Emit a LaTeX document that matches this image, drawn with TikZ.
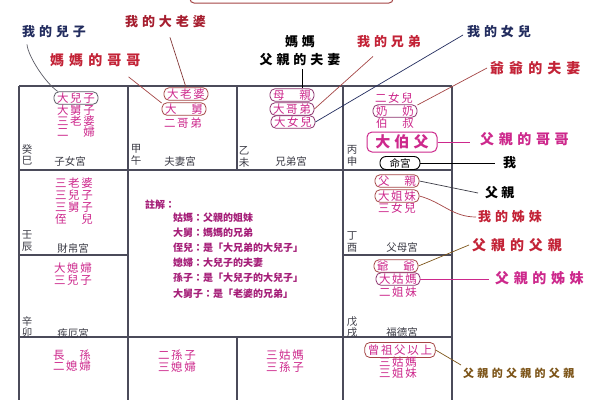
\documentclass[tikz,border=0pt]{standalone}
\usepackage{fontspec}
\setmainfont{Noto Sans CJK TC}
\definecolor{mag}{RGB}{205,40,140}
\definecolor{redl}{RGB}{195,35,55}
\definecolor{navy}{RGB}{35,45,95}
\definecolor{brownl}{RGB}{125,85,25}
\definecolor{notec}{RGB}{165,30,120}
\definecolor{stemc}{RGB}{60,60,70}
\definecolor{ovred}{RGB}{165,70,70}
\definecolor{ovmag}{RGB}{140,50,110}
\definecolor{ovgray}{RGB}{90,90,100}
\definecolor{gridc}{RGB}{75,75,90}
\begin{document}
\begin{tikzpicture}[x=1pt,y=-1pt,
  ct/.style={text=mag, font=\fontsize{11.5}{11.5}\selectfont\addfontfeature{LetterSpace=15}, inner sep=0pt},
  ov/.style={ct, draw=ovred, rounded corners=5pt, line width=0.8pt, minimum width=44pt, minimum height=12.5pt, inner xsep=3pt},
  stemtxt/.style={font=\fontsize{10.5}{11.5}\selectfont, text=stemc, inner sep=0pt, align=center},
  pal/.style={font=\fontsize{10.5}{10.5}\selectfont, text=stemc, inner sep=0pt},
  lab/.style={font=\fontsize{13}{13}\selectfont\bfseries\addfontfeature{LetterSpace=30}, inner sep=0pt, anchor=west},
  biglab/.style={font=\fontsize{14}{14}\selectfont\bfseries\addfontfeature{LetterSpace=36}, inner sep=0pt, anchor=west},
  gridl/.style={draw=gridc, line width=1.1pt},
  notetxt/.style={font=\fontsize{10}{10}\selectfont\bfseries, text=notec, inner sep=0pt, anchor=west},
  conn/.style={line width=0.7pt}
]
\useasboundingbox (0,0) rectangle (600,400);
\fill[white] (0,0) rectangle (600,400);
\clip (0,0) rectangle (600,400);

% title box (cut off)
\draw[draw=ovred, line width=1pt, rounded corners=4pt] (190,-10) rectangle (393,3);

% grid
\draw[gridl] (19,86) -- (452,86);
\draw[gridl] (19,170) -- (452,170);
\draw[gridl] (19,255) -- (128,255);
\draw[gridl] (343,255) -- (452,255);
\draw[gridl] (19,337) -- (452,337);
\draw[gridl] (19,86) -- (19,400);
\draw[gridl] (128,86) -- (128,400);
\draw[gridl] (343,86) -- (343,400);
\draw[gridl] (452,86) -- (452,400);
\draw[gridl] (237,86) -- (237,170);
\draw[gridl] (237,337) -- (237,400);

% cell si
\node[ov, draw=ovgray] (sonA) at (76,98) {大兒子};
\node[ct] (c1b) at (76,110) {大舅子};
\node[ct] (c1c) at (76,121) {三老婆};
\node[ct] (c1d) at (76,132) {二　婦};
\node[stemtxt] (s1) at (27,155) {癸\\巳};
\node[pal] (p1) at (70,161) {子女宮};

% cell wu
\node[ov] (wifeA) at (186,94) {大老婆};
\node[ov] (uncA) at (184,109) {大　舅};
\node[ct] (c2c) at (183,123) {二哥弟};
\node[stemtxt] (s2) at (136,155) {甲\\午};
\node[pal] (p2) at (180,161) {夫妻宮};

% cell wei
\node[ov, draw=ovmag] (momN) at (292,95) {母　親};
\node[ov, draw=ovmag] (broN) at (292,109) {大哥弟};
\node[ov, draw=ovmag] (dauN) at (293,122) {大女兒};
\node[stemtxt] (s3) at (244,157) {乙\\未};
\node[pal] (p3) at (291,161) {兄弟宮};

% cell shen
\node[ct] (c4a) at (394,98) {二女兒};
\node[ov, draw=ovmag] (grmaN) at (395,111) {奶　奶};
\node[ct] (c4c) at (395,123) {伯　叔};
\node[draw=mag, text=mag, rounded corners=5pt, line width=1pt, minimum width=70pt, minimum height=20pt, inner sep=0pt,
      font=\fontsize{15}{15}\selectfont\bfseries\addfontfeature{LetterSpace=28}] (bofu) at (402,142) {大伯父};
\node[draw=black, text=black, rounded corners=6pt, line width=0.9pt, minimum width=40pt, minimum height=13pt, inner sep=0pt,
      font=\fontsize{10.5}{10.5}\selectfont] (ming) at (400,163) {命宮};
\node[stemtxt] (s4) at (352,156) {丙\\申};

% cell chen
\node[ct] (c5a) at (74,183) {三老婆};
\node[ct] (c5b) at (74,195) {三兒子};
\node[ct] (c5c) at (74,207) {三舅子};
\node[ct] (c5d) at (74,219) {侄　兒};
\node[stemtxt] (s5) at (27,241) {壬\\辰};
\node[pal] (p5) at (73,248) {財帛宮};

% cell mao
\node[ct] (c6a) at (73,268) {大媳婦};
\node[ct] (c6b) at (73,280) {三兒子};
\node[stemtxt] (s6) at (27,327) {辛\\卯};
\node[pal] (p6) at (73,333) {疾厄宮};

% center notes
\node[notetxt] (n0) at (145,205) {註解：};
\node[notetxt] (n1) at (173,218) {姑媽：父親的姐妹};
\node[notetxt] (n2) at (173,233) {大舅：媽媽的兄弟};
\node[notetxt] (n3) at (173,248) {侄兒：是「大兄弟的大兒子」};
\node[notetxt] (n4) at (173,263) {媳婦：大兒子的夫妻};
\node[notetxt] (n5) at (173,278) {孫子：是「大兒子的大兒子」};
\node[notetxt] (n6) at (173,294) {大舅子：是「老婆的兄弟」};

% cell you
\node[ov] (dadN) at (397,181) {父　親};
\node[ov] (sisN) at (397,196) {大姐妹};
\node[ct] (c8c) at (397,208) {三女兒};
\node[stemtxt] (s8) at (352,242) {丁\\酉};
\node[pal] (p8) at (402,247) {父母宮};

% cell xu
\node[ov] (grpaN) at (396,266) {爺　爺};
\node[ov, draw=ovmag] (auntN) at (398,279) {大姑媽};
\node[ct] (c9c) at (398,292) {二姐妹};
\node[stemtxt] (s9) at (352,327) {戊\\戌};
\node[pal] (p9) at (402,332) {福德宮};

% bottom row
\node[ct] (c10a) at (72,355) {長　孫};
\node[ct] (c10b) at (72,366) {二媳婦};
\node[ct] (c11a) at (177,355) {二孫子};
\node[ct] (c11b) at (177,367) {三媳婦};
\node[ct] (c12a) at (285,355) {三姑媽};
\node[ct] (c12b) at (285,367) {三孫子};
\node[ov, minimum width=70pt, minimum height=15pt] (ggN) at (400,350) {曾祖父以上};
\node[ct] (c13b) at (398,362) {三姑媽};
\node[ct] (c13c) at (398,373) {三姐妹};

% outer labels
\node[lab, text=navy] (Lson) at (22,32) {我的兒子};
\node[biglab, text=redl] (Lmu) at (50,60) {媽媽的哥哥};
\node[lab, text=redl!85!black] (Lwife) at (125,22) {我的大老婆};
\node[lab, anchor=center, align=center, text=black, font=\fontsize{13}{18}\selectfont\bfseries\addfontfeature{LetterSpace=30}] (Lmom) at (300,51) {媽媽\\父親的夫妻};
\node[lab, text=redl] (Lbro) at (357,42) {我的兄弟};
\node[lab, text=navy] (Ldau) at (467,32) {我的女兒};
\node[biglab, text=redl] (Lgm) at (490,68) {爺爺的夫妻};
\node[biglab, text=mag, font=\fontsize{14}{14}\selectfont\bfseries\addfontfeature{LetterSpace=33}] (Lbf) at (480,139) {父親的哥哥};
\node[lab, text=black] (Lme) at (503,163) {我};
\node[lab, text=black, font=\fontsize{13}{13}\selectfont\bfseries\addfontfeature{LetterSpace=25}] (Ldad) at (485,193) {父親};
\node[lab, text=redl] (Lsis) at (478,217) {我的姊妹};
\node[biglab, text=redl, font=\fontsize{14}{14}\selectfont\bfseries\addfontfeature{LetterSpace=35}] (Lgp) at (472,245) {父親的父親};
\node[biglab, text=mag, font=\fontsize{14}{14}\selectfont\bfseries\addfontfeature{LetterSpace=33}] (Lau) at (495,278) {父親的姊妹};
\node[lab, text=brownl, font=\fontsize{11}{11}\selectfont\bfseries\addfontfeature{LetterSpace=30}] (Lgg) at (463,373) {父親的父親的父親};

% connectors
\draw[conn, draw=ovgray] (Lson.south west) ++(5,6) .. controls +(1,12) and +(-12,-8) .. (sonA.160);
\draw[conn, draw=ovred] (Lmu.south east) ++(-12,10) -- (uncA.165);
\draw[conn, draw=ovred!80!black] (Lwife.south west) ++(45,9) -- (wifeA.north);
\draw[conn, draw=black] ([xshift=2pt,yshift=-3pt]Lmom.south) -- ([xshift=2pt]Lmom.south |- momN.north);
\draw[conn, draw=ovred] (Lbro.south west) ++(16,8) -- (broN.east);
\draw[conn, draw=navy] (Ldau.west) ++(-4,3) -- (dauN.east);
\draw[conn, draw=ovred] (Lgm.west) ++(-3,0) -- (grmaN.15);
\draw[conn, draw=mag] (bofu.east) -- ([xshift=-10pt]Lbf.west |- bofu.east);
\draw[conn, draw=black] (ming.east) -- ([xshift=-8pt]Lme.west |- ming.east);
\draw[conn, draw=stemc] (dadN.east) -- ([xshift=-7pt]Ldad.west);
\draw[conn, draw=ovred] (sisN.east) to[out=-15,in=180] ([xshift=-2pt]Lsis.west);
\draw[conn, draw=brownl] (grpaN.east) -- ([xshift=-3pt]Lgp.west);
\draw[conn, draw=mag] (auntN.east) -- ([xshift=-6pt]Lau.west |- auntN.east);
\draw[conn, draw=brownl] (ggN.east) -- ([xshift=-2pt,yshift=8pt]Lgg.west);
\end{tikzpicture}
\end{document}
